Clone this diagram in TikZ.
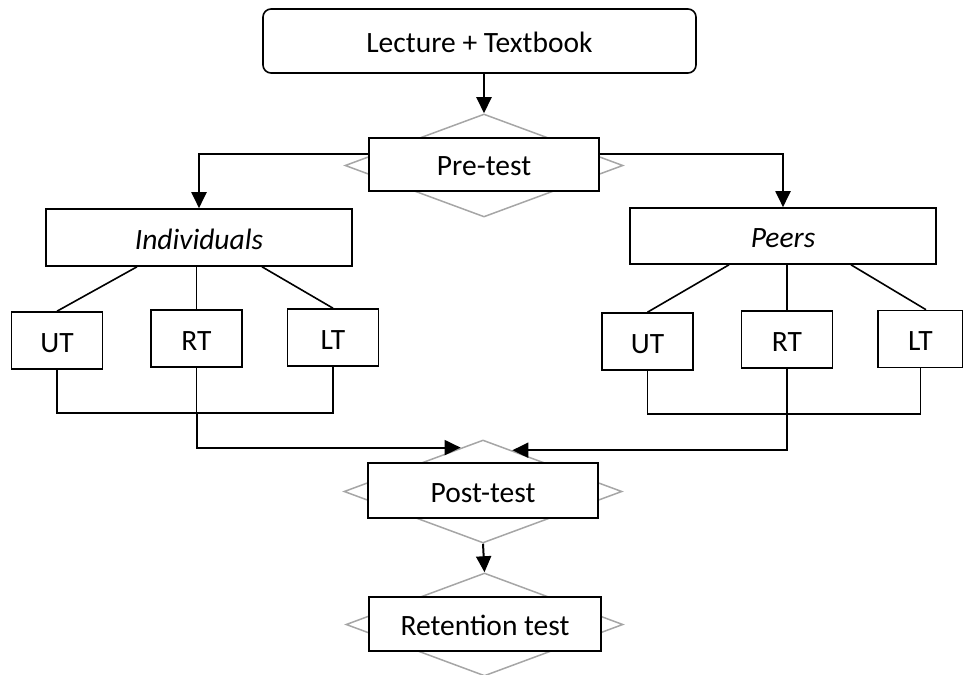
\documentclass[tikz,border=0pt]{standalone}
\usepackage{fontspec}
\setmainfont{Carlito}
\usetikzlibrary{arrows.meta,shapes.geometric,calc}

\begin{document}
\begin{tikzpicture}
[
    x=1bp, y=-1bp,
    box/.style={draw, line width=1.6bp, fill=white, inner sep=0pt,
        text height=23bp, text depth=0pt,
        font=\fontsize{29.5bp}{35bp}\selectfont},
    leaf/.style={box, minimum width=91bp, minimum height=57bp},
    gate/.style={diamond, draw=black!35, line width=1.5bp, inner sep=0pt,
        minimum width=278bp, minimum height=103bp},
    arr/.style={line width=2bp, -{Triangle[length=16bp,width=15bp]}},
    link/.style={line width=1.6bp},
]
\useasboundingbox (0,0) rectangle (963,675);

% top and pre-test
\node [box, rounded corners=8bp, minimum width=433bp, minimum height=64bp] (lec) at (479.5,41) {Lecture + Textbook};
\node [gate] (predia) at (484,165.5) {};
\node [box, minimum width=230bp, minimum height=53bp] (pre) at (484,164.5) {Pre-test};

% the two groups
\node [box, minimum width=306bp, minimum height=57bp] (ind) at (199,237.5) {\itshape Individuals};
\node [box, minimum width=306bp, minimum height=56bp] (peer) at (783,236) {\itshape Peers};

\node [leaf] (iut) at (57,340.5) {UT};
\node [leaf] (irt) at (196.5,338.5) {RT};
\node [leaf] (ilt) at (333,337.5) {LT};
\node [leaf] (put) at (647.5,341.5) {UT};
\node [leaf] (prt) at (787,339.5) {RT};
\node [leaf, minimum width=85bp] (plt) at (920.5,339) {LT};

% post-test and retention
\node [gate] (postdia) at (483,491.5) {};
\node [box, minimum width=230bp, minimum height=55bp] (post) at (483,490.5) {Post-test};
\node [gate, minimum width=277bp] (retdia) at (484.5,624.5) {};
\node [box, minimum width=232bp, minimum height=54bp] (ret) at (485,624) {Retention test};

% connectors
\draw [arr] (predia.north |- lec.south) -- (predia.north);
\draw [arr] ([yshift=10.5bp]pre.west) -| (ind.north);
\draw [arr] ([yshift=10.5bp]pre.east) -| (peer.north);

\draw [link] ([xshift=-62bp]ind.south) -- (iut.north);
\draw [link] (ind.south -| irt.north) -- (irt.north);
\draw [link] ([xshift=63bp]ind.south) -- (ilt.north);
\draw [link] ([xshift=-54bp]peer.south) -- (put.north);
\draw [link] (peer.south -| prt.north) -- (prt.north);
\draw [link] ([xshift=68bp]peer.south) -- ([xshift=5.5bp]plt.north);

\coordinate (ijoin) at ([yshift=-45bp]irt.south);
\coordinate (pjoin) at ([yshift=-45bp]prt.south);
\draw [link] (iut.south) |- (ijoin) -| (ilt.south);
\draw [link] (irt.south) -- (ijoin);
\draw [link] (put.south) |- (pjoin) -| (plt.south);
\draw [link] (prt.south) -- (pjoin);

\coordinate (ltip) at ($(postdia.west)!0.84!(postdia.north)$);
\coordinate (rtip) at ($(postdia.east)!0.79!(postdia.north)$);
\draw [arr] (ijoin) |- (ltip);
\draw [arr] (pjoin) |- (rtip);
\draw [arr] (postdia.south) -- (retdia.north);
\end{tikzpicture}
\end{document}
